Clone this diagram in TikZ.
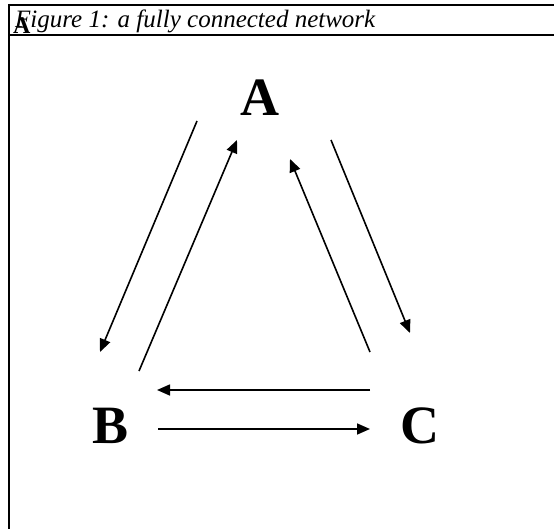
\documentclass[tikz,border=0pt]{standalone}
\usepackage{fontspec}
\setmainfont{Liberation Serif}
\usepackage{tikz}
\usetikzlibrary{arrows.meta}

\tikzset{
  peer/.style={anchor=base, inner sep=0pt, font=\fontsize{54}{60}\selectfont\bfseries},
  link/.style={line width=1.6pt, -{Triangle[length=13pt, width=11pt]}},
  frameline/.style={line width=2.2pt}
}

\begin{document}
\begin{tikzpicture}[x=1pt, y=-1pt]
				\useasboundingbox (0,0) rectangle (554,529);
				
				% Frame
				\draw[frameline] (9,5) -- (554,5);
				\draw[frameline] (9,35) -- (554,35);
				\draw[frameline] (9,4) -- (9,529);
				
				% Caption
				\node[anchor=base west, inner sep=0pt, font=\fontsize{25}{30}\selectfont\itshape] (caption) at (15,28) {Figure 1: a fully connected network};
				\node[anchor=base west, inner sep=0pt, font=\fontsize{24}{28}\selectfont\bfseries] (mark) at (13,34) {A};
				
				% Peers
				\node[peer] (A) at (260,116) {A};
				\node[peer] (B) at (110.5,443) {B};
				\node[peer] (C) at (419.5,443) {C};
				
				% A and B
				\draw[link] ([shift={(-63,5)}]A.base) -- ([shift={(-10.5,-91)}]B.base); % A to B
				\draw[link] ([shift={(28.5,-72)}]B.base) -- ([shift={(-23,24)}]A.base); % B to A
				
				% A and C
				\draw[link] ([shift={(71,24)}]A.base) -- ([shift={(-9.5,-110)}]C.base); % A to C
				\draw[link] ([shift={(-49.5,-91)}]C.base) -- ([shift={(30,43)}]A.base); % C to A
				
				% B and C
				\draw[link] ([shift={(-49.5,-53)}]C.base) -- ([shift={(46.5,-53)}]B.base); % C to B
				\draw[link] ([shift={(47.5,-14)}]B.base) -- ([shift={(-49.5,-14)}]C.base); % B to C
			\end{tikzpicture}
\end{document}
